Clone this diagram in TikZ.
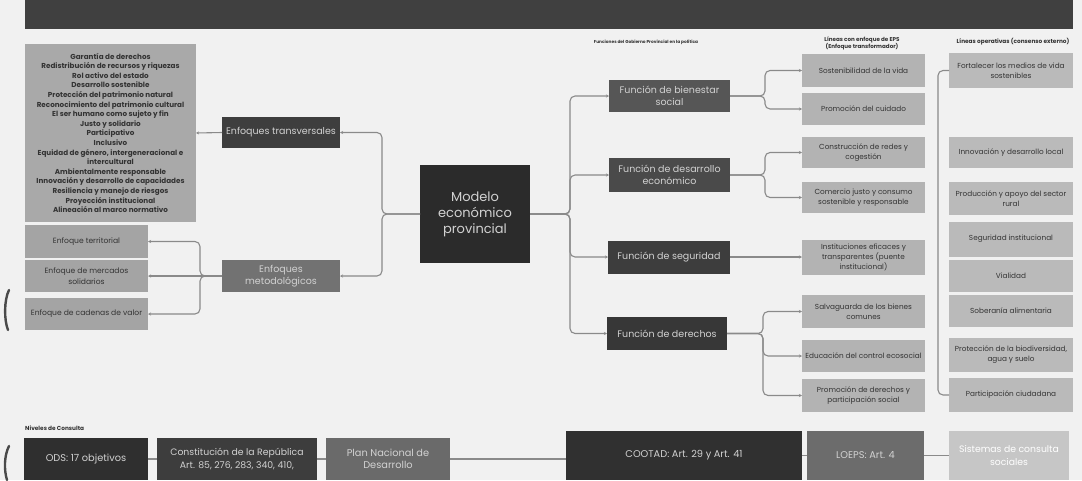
\documentclass[tikz,border=0pt]{standalone}
\usepackage{fontspec}
\setmainfont{Poppins}
\usetikzlibrary{arrows.meta,calc}
\definecolor{bg}{HTML}{F1F1F1}
\definecolor{band}{HTML}{404040}
\definecolor{blockg}{HTML}{A9A9A9}
\definecolor{leftg}{HTML}{A4A4A4}
\definecolor{transg}{HTML}{3E3E3E}
\definecolor{metg}{HTML}{727272}
\definecolor{modg}{HTML}{2B2B2B}
\definecolor{fa}{HTML}{565656}
\definecolor{fb}{HTML}{4A4A4A}
\definecolor{fc}{HTML}{3D3D3D}
\definecolor{fd}{HTML}{373737}
\definecolor{lineg}{HTML}{B3B3B3}
\definecolor{opg}{HTML}{BABABA}
\definecolor{odsg}{HTML}{2F2F2F}
\definecolor{constg}{HTML}{3D3D3D}
\definecolor{plang}{HTML}{6A6A6A}
\definecolor{cootg}{HTML}{303030}
\definecolor{loepg}{HTML}{6C6C6C}
\definecolor{sistg}{HTML}{C6C6C6}
\definecolor{linec}{HTML}{8A8A8A}
\definecolor{txd}{HTML}{333333}
\definecolor{txl}{HTML}{D2D2D2}
\definecolor{artf}{HTML}{4A4A4A}
\newcommand{\bx}[7]{\node[#6, minimum width=#4pt, minimum height=#5pt] (#1) at (#2,#3) {#7};}
\begin{document}
\begin{tikzpicture}[x=1pt,y=-1pt,
  box/.style={rectangle, inner sep=1pt, outer sep=0pt, align=center, anchor=center},
  darkbox/.style={box, text=txl, font=\fontsize{9.5}{12}\selectfont},
  lightbox/.style={box, text=txd, font=\fontsize{7.3}{10}\selectfont},
  conn/.style={draw=linec, line width=1.1pt, rounded corners=5pt},
  tip/.style={-{Stealth[length=3pt,width=3pt]}},
  hdr/.style={text=txd, font=\bfseries\fontsize{5.8}{7}\selectfont, align=center, inner sep=0pt}]
\useasboundingbox (0,0) rectangle (1082,480);
\fill[bg] (0,0) rectangle (1082,480);
% top band
\fill[band] (25,0) rectangle (1073,29);
% photo artifacts at left edge
\draw[artf, line width=2.4pt, line cap=round] (9,290) .. controls (4,300) and (4,320) .. (8,330);
\draw[artf, line width=2.4pt, line cap=round] (9,446) .. controls (4,456) and (4,470) .. (7,480);

% left text block
\bx{tl}{110.5}{133}{171}{178}{box, fill=blockg, text=txd, font=\bfseries\fontsize{7.2}{9.6}\selectfont}{Garantía de derechos\\Redistribución de recursos y riquezas\\Rol activo del estado\\Desarrollo sostenible\\Protección del patrimonio natural\\Reconocimiento del patrimonio cultural\\El ser humano como sujeto y fin\\Justo y solidario\\Participativo\\Inclusivo\\Equidad de género, intergeneracional e\\intercultural\\Ambientalmente responsable\\Innovación y desarrollo de capacidades\\Resiliencia y manejo de riesgos\\Proyección institucional\\Alineación al marco normativo}

% left boxes
\bx{et}{86.5}{241.5}{123}{33}{lightbox, fill=leftg, font=\fontsize{7.6}{10.5}\selectfont}{Enfoque territorial}
\bx{em}{86.5}{276}{123}{32}{lightbox, fill=leftg, font=\fontsize{7.6}{10.5}\selectfont}{Enfoque de mercados\\solidarios}
\bx{ec}{86.5}{314}{123}{32}{lightbox, fill=leftg, font=\fontsize{7.6}{10.5}\selectfont}{Enfoque de cadenas de valor}

% middle
\bx{trans}{281}{132.5}{118}{31}{darkbox, fill=transg}{Enfoques transversales}
\bx{met}{281}{276}{118}{32}{darkbox, fill=metg}{Enfoques\\metodológicos}
\bx{modelo}{475}{214}{110}{98}{darkbox, fill=modg, font=\fontsize{13}{16}\selectfont}{Modelo\\económico\\provincial}

% functions
\bx{f1}{669.5}{96}{121}{32}{darkbox, fill=fa}{Función de bienestar\\social}
\bx{f2}{669.5}{175}{121}{34}{darkbox, fill=fb}{Función de desarrollo\\económico}
\bx{f3}{669}{257}{122}{33}{darkbox, fill=fc}{Función de seguridad}
\bx{f4}{667}{333.5}{120}{33}{darkbox, fill=fd}{Función de derechos}

% lines with EPS focus
\bx{l1}{863.5}{70.5}{123}{33}{lightbox, fill=lineg}{Sostenibilidad de la vida}
\bx{l2}{863.5}{109}{123}{32}{lightbox, fill=lineg}{Promoción del cuidado}
\bx{l3}{863.5}{152.5}{123}{31}{lightbox, fill=lineg}{Construcción de redes y\\cogestión}
\bx{l4}{863.5}{197.5}{123}{31}{lightbox, fill=lineg}{Comercio justo y consumo\\sostenible y responsable}
\bx{l5}{863.5}{257}{123}{35}{lightbox, fill=lineg}{Instituciones eficaces y\\transparentes (puente\\institucional)}
\bx{l6}{863.5}{311.5}{123}{33}{lightbox, fill=lineg}{Salvaguarda de los bienes\\comunes}
\bx{l7}{863.5}{356}{123}{32}{lightbox, fill=lineg}{Educación del control ecosocial}
\bx{l8}{863.5}{395.5}{123}{33}{lightbox, fill=lineg}{Promoción de derechos y\\participación social}

% operative lines
\bx{o1}{1011}{70.5}{124}{35}{lightbox, fill=opg}{Fortalecer los medios de vida\\sostenibles}
\bx{o2}{1011}{152.5}{124}{31}{lightbox, fill=opg}{Innovación y desarrollo local}
\bx{o3}{1011}{198.5}{124}{33}{lightbox, fill=opg}{Producción y apoyo del sector\\rural}
\bx{o4}{1011}{239}{124}{35}{lightbox, fill=opg}{Seguridad institucional}
\bx{o5}{1011}{276}{124}{32}{lightbox, fill=opg}{Vialidad}
\bx{o6}{1011}{311}{124}{32}{lightbox, fill=opg}{Soberanía alimentaria}
\bx{o7}{1011}{355}{124}{34}{lightbox, fill=opg}{Protección de la biodiversidad,\\agua y suelo}
\bx{o8}{1011}{395}{124}{34}{lightbox, fill=opg}{Participación ciudadana}

% headers
\node[hdr, font=\bfseries\fontsize{4.3}{6}\selectfont] (h1) at (646,42) {Funciones del Gobierno Provincial en la política};
\node[hdr, font=\bfseries\fontsize{5.6}{7}\selectfont] (h2) at (862,43) {Líneas con enfoque de EPS\\(Enfoque transformador)};
\node[hdr] (h3) at (1013,42) {Líneas operativas (consenso externo)};
\node[hdr, anchor=west] (h4) at (25,428) {Niveles de Consulta};

% bottom row
\bx{ods}{86}{459}{124}{42}{darkbox, fill=odsg, font=\fontsize{9.8}{12.5}\selectfont}{ODS: 17 objetivos}
\bx{const}{237}{459}{160}{42}{darkbox, fill=constg, font=\fontsize{9.3}{12.5}\selectfont}{Constitución de la República\\Art. 85, 276, 283, 340, 410,}
\bx{plan}{388}{459}{124}{42}{darkbox, fill=plang, font=\fontsize{9.8}{12.5}\selectfont}{Plan Nacional de\\Desarrollo}
\bx{coot}{684}{455.5}{236}{49}{darkbox, fill=cootg, font=\fontsize{9.8}{12.5}\selectfont}{COOTAD: Art. 29 y Art. 41}
\bx{loeps}{865.5}{455.5}{117}{49}{darkbox, fill=loepg, font=\fontsize{9.8}{12.5}\selectfont}{LOEPS: Art. 4}
\bx{sist}{1009}{455.5}{120}{49}{darkbox, fill=sistg, text=white, font=\fontsize{9.3}{12.5}\selectfont}{Sistemas de consulta\\sociales}

% connectors left side
\draw[conn, tip] (trans.west) -- (tl.east);
\coordinate (jl) at (200,276);
\draw[conn, tip] (met.west) -- (jl) |- (et.east);
\draw[conn, tip] (met.west) -- (em.east);
\draw[conn, tip] (met.west) -- (jl) |- (ec.east);
\coordinate (jm) at (382,214);
\draw[conn, tip] (modelo.west) -- (jm) |- (trans.east);
\draw[conn, tip] (modelo.west) -- (jm) |- (met.east);
% connectors right side
\coordinate (jf) at (570,214);
\draw[conn, tip] (modelo.east) -- (jf) |- (f1.west);
\draw[conn, tip] (modelo.east) -- (jf) |- (f2.west);
\draw[conn, tip] (modelo.east) -- (jf) |- (f3.west);
\draw[conn, tip] (modelo.east) -- (jf) |- (f4.west);
\coordinate (j1) at (765,96);
\draw[conn, tip] (f1.east) -- (j1) |- (l1.west);
\draw[conn, tip] (f1.east) -- (j1) |- (l2.west);
\coordinate (j2) at (765,175);
\draw[conn, tip] (f2.east) -- (j2) |- (l3.west);
\draw[conn, tip] (f2.east) -- (j2) |- (l4.west);
\draw[conn, tip] (f3.east) -- (l5.west);
\coordinate (j4) at (763,333.5);
\draw[conn, tip] (f4.east) -- (j4) |- (l6.west);
\draw[conn, tip] (f4.east) -- (j4) |- (l7.west);
\draw[conn, tip] (f4.east) -- (j4) |- (l8.west);
\coordinate (jo1) at (938,70.5);
\coordinate (jo2) at (938,395);
\draw[conn] (o1.west) -- (jo1) -- (jo2) -- (o8.west);
% bottom connectors
\draw[conn] (ods.east) -- (ods.east -| const.west);
\draw[conn] (const.east) -- (const.east -| plan.west);
\draw[conn] (plan.east) -- (plan.east -| coot.west);
\draw[conn] (coot.east) -- (coot.east -| loeps.west);
\draw[conn] (loeps.east) -- (loeps.east -| sist.west);
\end{tikzpicture}
\end{document}
